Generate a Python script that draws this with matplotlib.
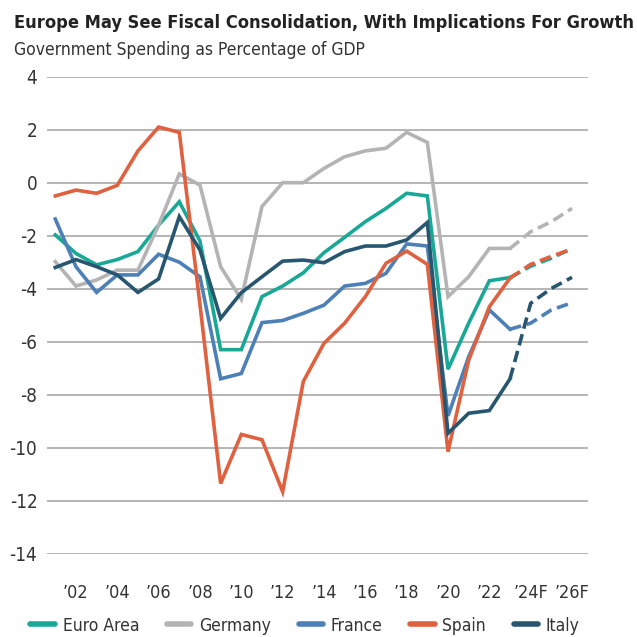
import numpy as np
import matplotlib.pyplot as plt
from matplotlib.lines import Line2D

plt.rcParams['font.family'] = ['DejaVu Sans']
plt.rcParams['font.stretch'] = 'condensed'

# Data
years = np.arange(2001, 2027)
n_actual = 23  # 2001-2023 solid, 2023-2026 dashed forecast

euro_area = [-1.97, -2.67, -3.1, -2.9, -2.6, -1.6, -0.72, -2.2, -6.3, -6.3,
             -4.3, -3.9, -3.4, -2.64, -2.06, -1.47, -0.97, -0.4, -0.5, -7.04,
             -5.3, -3.7, -3.58, -3.15, -2.85, -2.48]
germany = [-2.98, -3.9, -3.67, -3.3, -3.3, -1.6, 0.33, -0.09, -3.17, -4.4,
           -0.9, 0.0, 0.0, 0.54, 0.98, 1.2, 1.3, 1.9, 1.52, -4.3,
           -3.55, -2.48, -2.48, -1.85, -1.47, -0.97]
france = [-1.37, -3.17, -4.14, -3.48, -3.48, -2.7, -3.0, -3.55, -7.4, -7.2,
          -5.28, -5.2, -4.93, -4.62, -3.9, -3.8, -3.42, -2.31, -2.39, -8.8,
          -6.57, -4.8, -5.53, -5.3, -4.8, -4.53]
spain = [-0.5, -0.28, -0.4, -0.1, 1.2, 2.1, 1.9, -4.6, -11.35, -9.5,
         -9.7, -11.66, -7.5, -6.06, -5.3, -4.3, -3.04, -2.58, -3.08, -10.15,
         -6.7, -4.68, -3.6, -3.08, -2.78, -2.5]
italy = [-3.2, -2.9, -3.17, -3.48, -4.14, -3.63, -1.28, -2.54, -5.12, -4.15,
         -3.55, -2.96, -2.92, -3.02, -2.6, -2.39, -2.39, -2.16, -1.5, -9.46,
         -8.7, -8.6, -7.4, -4.55, -3.99, -3.57]

names = ['Euro Area', 'Germany', 'France', 'Spain', 'Italy']
colors = ['#1aa896', '#b4b4b4', '#4c80b6', '#e0613f', '#275670']
series = [euro_area, germany, france, spain, italy]

xtick_years = np.arange(2002, 2027, 2)
xtick_labels = ['\u201902', '\u201904', '\u201906', '\u201908', '\u201910', '\u201912',
                '\u201914', '\u201916', '\u201918', '\u201920', '\u201922',
                '\u201924F', '\u201926F']
yticks = np.arange(-14, 5, 2)

fig = plt.figure(figsize=(6.37, 6.37), dpi=100)
ax = fig.add_axes([0.0738, 0.1308, 0.8492, 0.7488])

for vals, c in zip(series, colors):
    vals = np.array(vals)
    ax.plot(years[:n_actual], vals[:n_actual], color=c, lw=2.6,
            solid_joinstyle='miter', zorder=3)
    ax.plot(years[n_actual - 1:], vals[n_actual - 1:], color=c, lw=2.6,
            ls=(0, (3.2, 1.6)), zorder=3)

ax.set_xlim(2000.6, 2026.77)
ax.set_ylim(-14, 4)
ax.set_yticks(yticks)
ax.set_yticklabels([str(v) for v in yticks])
ax.set_xticks(xtick_years)
ax.set_xticklabels(xtick_labels)
ax.grid(axis='y', color='#a8a8a8', lw=1.2, zorder=1)
ax.grid(axis='x', visible=False)
for s in ax.spines.values():
    s.set_visible(False)
ax.tick_params(axis='both', length=0, labelsize=13.5, colors='#333333')
ax.tick_params(axis='x', labelsize=13, pad=22)
ax.tick_params(axis='y', pad=7)

# y-axis label sits mostly off the left edge, as in the original
fig.text(0.006, 0.49, '% of GDP', rotation=90, ha='right', va='center',
         fontsize=13, color='#333333')

fig.text(0.022, 0.956, 'Europe May See Fiscal Consolidation, With Implications For Growth',
         fontsize=13.1, fontweight='bold', color='#222222', ha='left', va='baseline')
fig.text(0.022, 0.914, 'Government Spending as Percentage of GDP',
         fontsize=12.5, color='#333333', ha='left', va='baseline')

handles = [Line2D([0], [0], color=c, lw=4, solid_capstyle='round') for c in colors]
fig.legend(handles, names, loc='center', bbox_to_anchor=(0.479, 0.018), ncol=5,
           frameon=False, fontsize=12.5, handlelength=1.4, handletextpad=0.45,
           columnspacing=1.6, labelcolor='#333333')

fig.savefig('out.png', dpi=100)
